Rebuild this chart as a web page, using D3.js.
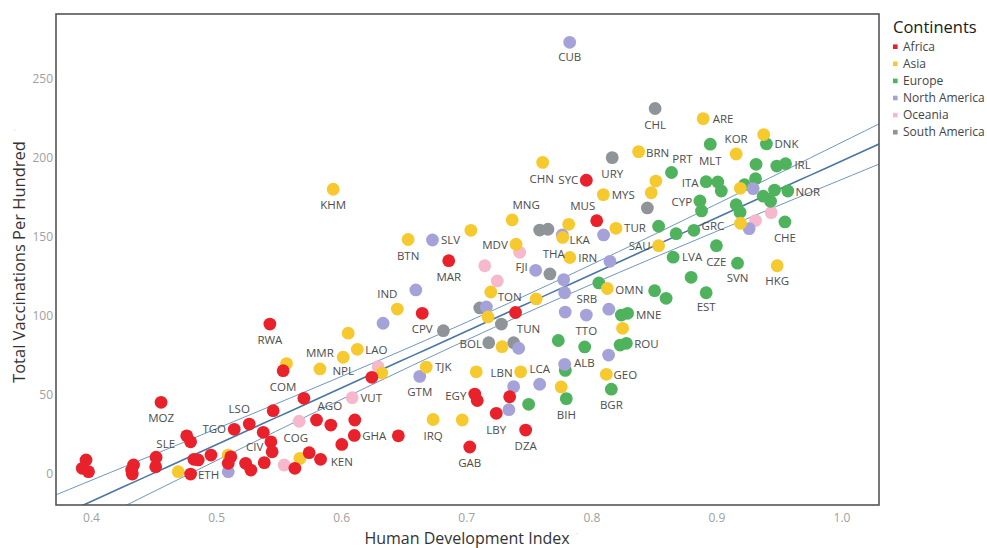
<!DOCTYPE html>
<html>
<head>
<meta charset="utf-8">
<script src="https://cdnjs.cloudflare.com/ajax/libs/d3/7.8.5/d3.min.js"></script>
<style>
  body { margin: 0; background: #fff; }
  svg { font-family: 'Open Sans', 'Noto Sans', sans-serif; }
</style>
</head>
<body>
<div id="chart"></div>
<script>
// each row: [country code (label, "" if unlabeled), human development index, total vaccinations per hundred]
var africa = [
  ["", 0.396, 8.9], ["", 0.393, 3.6], ["", 0.398, 1.5], ["", 0.434, 5.7], ["", 0.4325, 2.5],
  ["", 0.433, 0], ["", 0.452, 10.6], ["", 0.4517, 4.6], ["MOZ", 0.456, 45.4], ["SLE", 0.4765, 24.2],
  ["", 0.4796, 20.4], ["ETH", 0.4796, 0], ["", 0.4823, 9.3], ["", 0.4857, 8.9], ["", 0.4959, 12.0],
  ["TGO", 0.5145, 28.3], ["LSO", 0.5265, 31.6], ["", 0.5118, 10.9], ["", 0.5097, 6.8], ["CIV", 0.5236, 6.8],
  ["", 0.5278, 2.5], ["", 0.5385, 7.2], ["", 0.5377, 26.4], ["", 0.5438, 20.4], ["", 0.5448, 14.1],
  ["", 0.5456, 40.1], ["RWA", 0.543, 94.9], ["COM", 0.5536, 65.4], ["", 0.5702, 47.9], ["", 0.5803, 34.2],
  ["AGO", 0.5917, 31.0], ["", 0.5744, 13.5], ["", 0.5835, 9.3], ["COG", 0.563, 3.6], ["", 0.6109, 34.2],
  ["GHA", 0.6105, 24.4], ["KEN", 0.6005, 18.7], ["", 0.6457, 24.2], ["", 0.6245, 61.2], ["CPV", 0.6648, 101.7],
  ["MAR", 0.686, 135.0], ["SYC", 0.796, 185.9], ["MUS", 0.8043, 160.3], ["TUN", 0.7394, 102.2], ["EGY", 0.7068, 50.6],
  ["", 0.7088, 46.5], ["", 0.7347, 48.9], ["LBY", 0.724, 38.4], ["DZA", 0.7475, 27.8], ["GAB", 0.7028, 17.1]
];
var asia = [
  ["", 0.4697, 1.5], ["", 0.5097, 12.0], ["", 0.5563, 69.9], ["", 0.567, 9.9], ["MMR", 0.583, 66.5],
  ["NPL", 0.6016, 73.9], ["LAO", 0.6129, 78.9], ["", 0.6056, 89.1], ["", 0.6325, 63.9], ["IND", 0.6449, 104.4],
  ["TJK", 0.668, 67.7], ["IRQ", 0.6735, 34.5], ["", 0.6968, 34.2], ["", 0.708, 64.7], ["LBN", 0.7435, 64.7],
  ["", 0.7286, 80.6], ["", 0.7174, 99.4], ["TON", 0.7196, 115.2], ["", 0.7559, 110.8], ["", 0.7759, 55.1],
  ["GEO", 0.812, 63.1], ["", 0.825, 92.2], ["OMN", 0.8128, 117.4], ["IRN", 0.7828, 137.0], ["LKA", 0.7771, 149.7],
  ["THA", 0.7819, 158.0], ["TUR", 0.8197, 155.5], ["SAU", 0.8538, 144.5], ["MYS", 0.8096, 176.8], ["CHN", 0.7611, 197.2],
  ["BRN", 0.8378, 204.0], ["", 0.8516, 185.4], ["", 0.8479, 178.0], ["MNG", 0.7367, 160.8], ["", 0.7037, 154.2],
  ["BTN", 0.6535, 148.4], ["MDV", 0.7398, 145.4], ["KHM", 0.5936, 180.2], ["ARE", 0.8894, 224.9], ["KOR", 0.9158, 202.5],
  ["", 0.9378, 214.8], ["", 0.9191, 180.8], ["", 0.9193, 158.7], ["HKG", 0.9486, 131.8]
];
var europe = [
  ["ALB", 0.7792, 65.6], ["BIH", 0.78, 47.7], ["", 0.7499, 44.1], ["", 0.7736, 84.5], ["", 0.7947, 80.4],
  ["BGR", 0.816, 53.7], ["ROU", 0.828, 82.7], ["", 0.823, 81.6], ["MNE", 0.829, 101.7], ["", 0.824, 100.6],
  ["SRB", 0.806, 120.9], ["", 0.8506, 116.0], ["", 0.8598, 111.2], ["LVA", 0.8654, 137.2], ["", 0.8538, 156.8],
  ["", 0.8678, 152.1], ["GRC", 0.882, 154.2], ["CZE", 0.9, 144.5], ["SVN", 0.9169, 133.4], ["", 0.8798, 124.5],
  ["EST", 0.8918, 114.7], ["PRT", 0.8641, 190.8], ["MLT", 0.8951, 208.7], ["DNK", 0.94, 208.9], ["", 0.9317, 196.0],
  ["", 0.9483, 194.9], ["IRL", 0.9553, 196.4], ["ITA", 0.8918, 185.0], ["", 0.9011, 184.8], ["", 0.9039, 179.1],
  ["", 0.9225, 183.1], ["", 0.9313, 186.9], ["", 0.9374, 175.8], ["", 0.9465, 179.7], ["NOR", 0.9571, 179.1],
  ["", 0.9433, 172.6], ["CYP", 0.8868, 172.8], ["", 0.8881, 166.5], ["", 0.9158, 170.4], ["", 0.9189, 165.6],
  ["CHE", 0.9548, 159.5]
];
var northAmerica = [
  ["", 0.5097, 1.5], ["", 0.6335, 95.4], ["", 0.6597, 116.5], ["GTM", 0.6628, 61.8], ["SLV", 0.673, 148.1],
  ["", 0.7161, 105.7], ["", 0.7419, 79.6], ["", 0.7379, 55.3], ["LCA", 0.7587, 56.8], ["", 0.7341, 40.7],
  ["", 0.7787, 69.4], ["", 0.7555, 128.9], ["", 0.7779, 123.0], ["", 0.7787, 114.7], ["", 0.7791, 102.5],
  ["TTO", 0.796, 100.6], ["", 0.814, 104.3], ["", 0.8138, 75.3], ["", 0.8098, 151.3], ["", 0.8149, 134.6],
  ["", 0.7768, 151.3], ["", 0.9294, 180.6], ["", 0.9262, 155.3], ["CUB", 0.7827, 273.2]
];
var oceania = [
  ["", 0.5544, 5.7], ["", 0.5664, 33.4], ["VUT", 0.6088, 48.3], ["", 0.6295, 67.9], ["FJI", 0.7427, 140.3],
  ["", 0.7148, 131.8], ["", 0.7248, 122.2], ["", 0.9313, 160.4], ["", 0.9438, 165.4]
];
var southAmerica = [
  ["", 0.6817, 90.7], ["", 0.7108, 105.1], ["", 0.7281, 94.9], ["BOL", 0.718, 83.1], ["", 0.7379, 83.1],
  ["", 0.7587, 154.4], ["", 0.7653, 154.9], ["", 0.7669, 126.6], ["URY", 0.8167, 200.2], ["CHL", 0.851, 231.3],
  ["", 0.8448, 168.4]
];

var continents = ["Africa", "Asia", "Europe", "North America", "Oceania", "South America"];
var xTicks = [0.4, 0.5, 0.6, 0.7, 0.8, 0.9, 1.0];
var yTicks = [0, 50, 100, 150, 200, 250];

// label placement relative to its dot (text centre, px)
var labelOffset = {
  MOZ: [0, 16], SLE: [-21, 8], ETH: [18, 1], TGO: [-20, 0], LSO: [-10, -15], CIV: [9, -16],
  RWA: [0, 16], COM: [0, 16], AGO: [-1, -19], COG: [1, -30], GHA: [20, 0], KEN: [0, 17],
  CPV: [0, 16], MAR: [0, 16], SYC: [-18, 0], MUS: [-14, -15], TUN: [13, 16], EGY: [-19, 2],
  LBY: [0, 17], DZA: [0, 16], GAB: [0, 16],
  MMR: [0, -16], NPL: [0, 14], LAO: [19, 1], IND: [-10, -15], TJK: [17, 0], IRQ: [0, 16],
  LBN: [-19, 1], TON: [19, 5], GEO: [19, 1], OMN: [22, 1], IRN: [18, 0], THA: [-15, 30],
  LKA: [17, 2], TUR: [19, 0], SAU: [-19, 0], MYS: [20, 0], CHN: [-1, 16], BRN: [19, 1],
  MNG: [14, -15], BTN: [0, 16], MDV: [-21, 1], KHM: [0, 16], ARE: [20, 0], KOR: [0, -15], HKG: [0, 15],
  GTM: [0, 15], SLV: [18, 0], LCA: [0, -15], CUB: [0, 15], TTO: [0, 16],
  ALB: [19, -7], BIH: [0, 16], BGR: [0, 16], ROU: [20, 1], MNE: [21, 2], SRB: [-12, 16],
  LVA: [19, 0], GRC: [19, -4], CZE: [0, 16], SVN: [0, 15], EST: [0, 14], PRT: [11, -14],
  MLT: [0, 17], DNK: [20, 0], IRL: [17, 1], ITA: [-16, 1], NOR: [20, 1], CYP: [-18, 1], CHE: [0, 16],
  VUT: [19, 0], FJI: [2, 15],
  BOL: [-18, 1], URY: [0, 16], CHL: [0, 16]
};

var palette = {
  "Africa": "#e8212b",
  "Asia": "#f6c92f",
  "Europe": "#4fb25d",
  "North America": "#a5a2d9",
  "Oceania": "#f5b8cc",
  "South America": "#8e9498"
};

var series = {
  "Africa": africa, "Asia": asia, "Europe": europe,
  "North America": northAmerica, "Oceania": oceania, "South America": southAmerica
};

var width = 987, height = 548;
var plot = { left: 56, top: 14, right: 879, bottom: 505 };

var svg = d3.select('#chart').append('svg')
  .attr('width', width)
  .attr('height', height);

var x = d3.scaleLinear().domain([0.372, 1.03]).range([plot.left, plot.right]);
var y = d3.scaleLinear().domain([-19.6, 291.1]).range([plot.bottom, plot.top]);

// flatten into point objects
var points = [];
continents.forEach(function (c) {
  series[c].forEach(function (d) {
    points.push({ code: d[0], hdi: d[1], vac: d[2], continent: c });
  });
});

// least squares trend line + 95% confidence band of the mean
var n = points.length;
var mx = d3.mean(points, function (d) { return d.hdi; });
var my = d3.mean(points, function (d) { return d.vac; });
var sxx = d3.sum(points, function (d) { return (d.hdi - mx) * (d.hdi - mx); });
var sxy = d3.sum(points, function (d) { return (d.hdi - mx) * (d.vac - my); });
var slope = sxy / sxx;
var intercept = my - slope * mx;
var sse = d3.sum(points, function (d) { var r = d.vac - (intercept + slope * d.hdi); return r * r; });
var s = Math.sqrt(sse / (n - 2));
var t = 1.973;

var xs = d3.range(0, 61).map(function (i) { return 0.372 + i * (1.03 - 0.372) / 60; });
function fit(v) { return intercept + slope * v; }
function band(v) { return t * s * Math.sqrt(1 / n + (v - mx) * (v - mx) / sxx); }

svg.append('clipPath').attr('id', 'clip')
  .append('rect')
  .attr('x', plot.left).attr('y', plot.top)
  .attr('width', plot.right - plot.left).attr('height', plot.bottom - plot.top);

var line = d3.line().x(function (d) { return x(d[0]); }).y(function (d) { return y(d[1]); });

var trend = svg.append('g').attr('clip-path', 'url(#clip)');
trend.append('path')
  .attr('d', line(xs.map(function (v) { return [v, fit(v) + band(v)]; })))
  .attr('fill', 'none').attr('stroke', '#6f97bf').attr('stroke-width', 1);
trend.append('path')
  .attr('d', line(xs.map(function (v) { return [v, fit(v) - band(v)]; })))
  .attr('fill', 'none').attr('stroke', '#6f97bf').attr('stroke-width', 1);
trend.append('path')
  .attr('d', line(xs.map(function (v) { return [v, fit(v)]; })))
  .attr('fill', 'none').attr('stroke', '#4a76a6').attr('stroke-width', 1.6);

// dots, drawn so that red/yellow sit on top as in the reference
var drawOrder = ["South America", "Oceania", "Europe", "North America", "Asia", "Africa"];
var ordered = [];
drawOrder.forEach(function (c) {
  points.forEach(function (p) { if (p.continent === c) ordered.push(p); });
});

svg.append('g').selectAll('circle')
  .data(ordered).enter()
  .append('circle')
  .attr('cx', function (d) { return x(d.hdi); })
  .attr('cy', function (d) { return y(d.vac); })
  .attr('r', 6.4)
  .attr('fill', function (d) { return palette[d.continent]; });

svg.append('g').selectAll('text')
  .data(points.filter(function (d) { return d.code; })).enter()
  .append('text')
  .attr('x', function (d) { return x(d.hdi) + (labelOffset[d.code] || [0, 16])[0]; })
  .attr('y', function (d) { return y(d.vac) + (labelOffset[d.code] || [0, 16])[1]; })
  .attr('dy', '0.36em')
  .attr('text-anchor', 'middle')
  .attr('font-size', 11.5)
  .attr('fill', '#4d4d4d')
  .text(function (d) { return d.code; });

// frame
svg.append('rect')
  .attr('x', plot.left).attr('y', plot.top)
  .attr('width', plot.right - plot.left).attr('height', plot.bottom - plot.top)
  .attr('fill', 'none').attr('stroke', '#555').attr('stroke-width', 1.6);

// axes: tick labels only, no lines
var xAxis = svg.append('g')
  .attr('transform', 'translate(0,' + plot.bottom + ')')
  .call(d3.axisBottom(x).tickValues(xTicks).tickFormat(d3.format('.1f')).tickSize(0).tickPadding(8));
var yAxis = svg.append('g')
  .attr('transform', 'translate(' + plot.left + ',0)')
  .call(d3.axisLeft(y).tickValues(yTicks).tickFormat(d3.format('d')).tickSize(0).tickPadding(3));
[xAxis, yAxis].forEach(function (g) {
  g.select('.domain').remove();
  g.selectAll('text').attr('fill', '#a0a0a0').attr('font-size', 12)
    .attr('font-family', "'Open Sans', sans-serif");
});

// axis titles
svg.append('text')
  .attr('x', 467).attr('y', 543.5)
  .attr('text-anchor', 'middle')
  .attr('font-size', 16).attr('fill', '#333')
  .text('Human Development Index');
svg.append('text')
  .attr('x', 576).attr('y', 536)
  .attr('font-size', 8).attr('fill', '#bbb')
  .text('·');
svg.append('text')
  .attr('transform', 'translate(25,262) rotate(-90)')
  .attr('text-anchor', 'middle')
  .attr('font-size', 16.5).attr('fill', '#333')
  .text('Total Vaccinations Per Hundred');
svg.append('text')
  .attr('transform', 'translate(17,131) rotate(-90)')
  .attr('font-size', 8).attr('fill', '#bbb')
  .text('·');

// legend
var legend = svg.append('g').attr('transform', 'translate(893,0)');
legend.append('text')
  .attr('x', 0).attr('y', 27).attr('dy', '0.35em')
  .attr('font-size', 16.5).attr('fill', '#1a1a1a')
  .text('Continents');
var item = legend.selectAll('.item')
  .data(continents).enter()
  .append('g')
  .attr('transform', function (d, i) { return 'translate(0,' + (46.7 + i * 17.1) + ')'; });
item.append('rect')
  .attr('x', 0).attr('y', -2.3).attr('width', 4.6).attr('height', 4.6)
  .attr('fill', function (d) { return palette[d]; });
item.append('text')
  .attr('x', 10).attr('dy', '0.35em')
  .attr('font-size', 12).attr('fill', '#444')
  .text(function (d) { return d; });
</script>
</body>
</html>
